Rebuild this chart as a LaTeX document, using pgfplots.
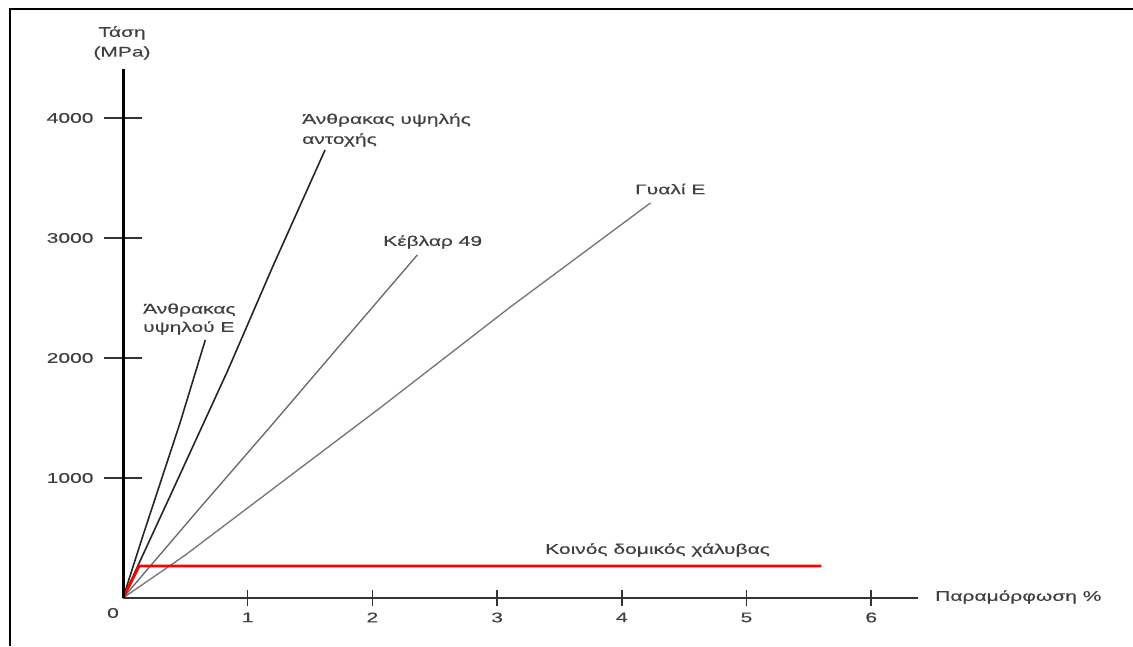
\documentclass[border=0pt]{standalone}
\usepackage{fontspec}
\setmainfont{Liberation Sans}
\newfontfamily\lab{Liberation Sans}[FakeStretch=1.5, FakeBold=0.4]
\usepackage{pgfplots}
\pgfplotsset{compat=1.18}
\newcommand{\lf}{\lab\fontsize{14}{16}\selectfont}
\begin{document}
\begin{tikzpicture}[x=1pt,y=1pt]
\path[use as bounding box] (0,0) rectangle (1133,646);
\draw[line width=2.5pt] (10,0) -- (10,637) -- (1133,637);
% x axis and data
\begin{axis}[
 at={(123pt,48pt)}, anchor=south west,
 scale only axis, width=795pt, height=529pt,
 xmin=0, xmax=6.375, ymin=0, ymax=4408,
 axis x line=bottom, axis y line=none,
 axis line style={-, line width=2.8pt, black!80},
 xtick={1,2,3,4,5,6}, ytick=\empty,
 major tick length=16pt, tick align=center,
 tick style={line width=1.5pt, black!80},
 xticklabel style={font=\lf, text=black!75, yshift=-3pt},
 /pgf/number format/assume math mode=true,
 clip=false,
]
\addplot[black!55, line width=1.3pt] coordinates {(0,0) (0.5,358) (1.275,967) (2.06,1583) (3.1,2420) (4.23,3292)};
\addplot[black!60, line width=1.3pt] coordinates {(0,0) (0.6,730) (1.2,1450) (1.8,2180) (2.36,2858)};
\addplot[black!85, line width=1.6pt] coordinates {(0,0) (0.4,900) (0.842,1900) (1.2,2760) (1.62,3733)};
\addplot[black!85, line width=1.6pt] coordinates {(0,0) (0.16,520) (0.457,1458) (0.66,2150)};
\addplot[red, line width=2.8pt] coordinates {(0,0) (0.13,267) (5.6,267)};
\end{axis}
% y axis
\begin{axis}[
 at={(123pt,48pt)}, anchor=south west,
 scale only axis, width=795pt, height=529pt,
 xmin=0, xmax=6.375, ymin=0, ymax=4408,
 axis y line=left, axis x line=none,
 axis line style={-, line width=3pt, black},
 ytick={1000,2000,3000,4000}, yticklabels={1000,2000,3000,4000}, xtick=\empty,
 major tick length=38pt, tick align=center,
 tick style={line width=1.5pt, black!80},
 yticklabel style={font=\lf, text=black!75, xshift=-7pt},
 clip=false,
]
\end{axis}
\begin{scope}[every node/.style={font=\lf, text=black!75, inner sep=0pt}]
\node at (122,613) {Τάση};
\node at (122,593) {(MPa)};
\node[anchor=west] at (935,49) {Παραμόρφωση \%};
\node at (113,33) {0};
\node[anchor=west] at (302,526) {Άνθρακας υψηλής};
\node[anchor=west] at (302,506) {αντοχής};
\node[anchor=west] at (383,404) {Κέβλαρ 49};
\node[anchor=west] at (635,457) {Γυαλί Ε};
\node[anchor=west] at (143,336) {Άνθρακας};
\node[anchor=west] at (143,318) {υψηλού Ε};
\node[anchor=west] at (545,96) {Κοινός δομικός χάλυβας};
\end{scope}
\end{tikzpicture}
\end{document}
